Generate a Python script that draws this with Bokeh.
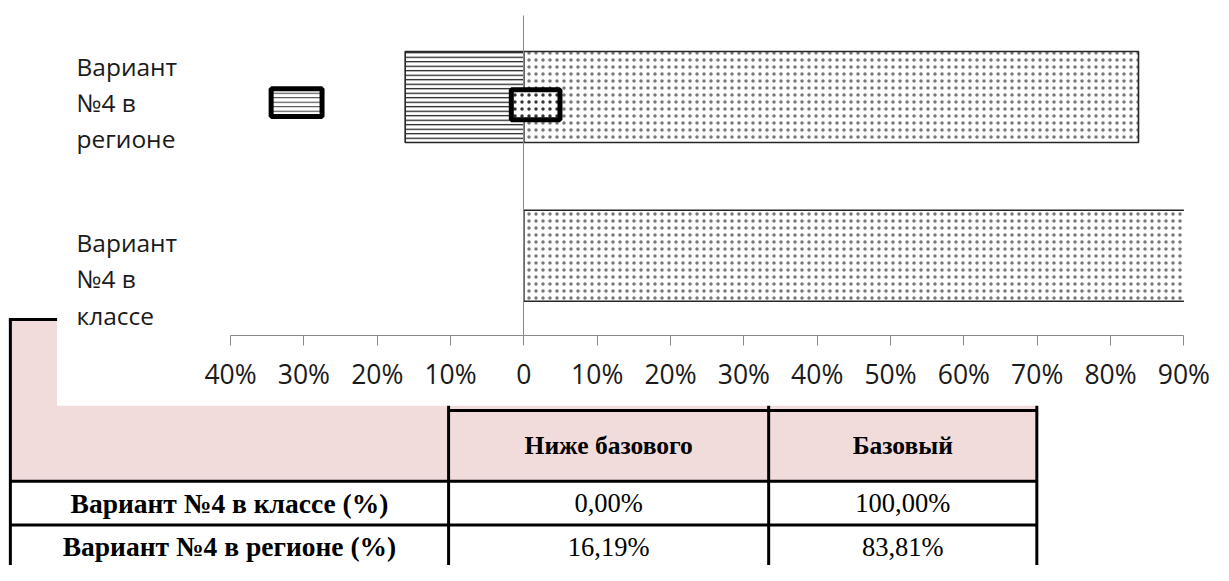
from bokeh.plotting import figure
from bokeh.models import Range1d, LinearAxis, FixedTicker, ColumnDataSource
from bokeh.core.properties import value
from bokeh.embed import file_html
from bokeh.resources import INLINE

# ---------------- data ----------------
categories = ["Вариант №4 в классе", "Вариант №4 в регионе"]
category_labels = ["Вариант\n№4 в\nклассе", "Вариант\n№4 в\nрегионе"]
series = ["Ниже базового", "Базовый"]
below_basic = [0.00, 16.19]
basic = [100.00, 83.81]
tick_values = [-40, -30, -20, -10, 0, 10, 20, 30, 40, 50, 60, 70, 80, 90]
tick_labels = ["40%", "30%", "20%", "10%", "0", "10%", "20%", "30%",
               "40%", "50%", "60%", "70%", "80%", "90%"]
row_labels = ["Вариант №4 в классе (%)", "Вариант №4 в регионе (%)"]

# ---------------- layout ----------------
W, H = 1213, 565                    # figure size
REF_W, REF_H = 1229, 581            # reference picture size (layout units)
ZERO_X, PX_PCT = 530.3, 7.43        # layout x of 0 %, layout px per 1 %
CLS_Y, UNIT_Y = 262.5, 163.3        # layout y of category 0, px per category
AXIS_MIN, AXIS_MAX = -40, 90        # value-axis limits of the chart
x_start = (0 - ZERO_X) / PX_PCT
x_end = (REF_W - ZERO_X) / PX_PCT
y_bottom = -(REF_H - CLS_Y) / UNIT_Y
y_top = CLS_Y / UNIT_Y

def ypage(py):
    return (CLS_Y - py) / UNIT_Y

p = figure(width=W, height=H, output_backend="svg", toolbar_location=None,
           x_range=Range1d(x_start, x_end), y_range=Range1d(y_bottom, y_top),
           x_axis_type=None, y_axis_type=None, min_border=0)
p.extra_x_ranges = {"px": Range1d(0, REF_W)}
p.extra_y_ranges = {"py": Range1d(REF_H, 0)}
p.outline_line_color = None
p.background_fill_color = "white"
p.border_fill_color = "white"

# ---------------- table (behind the chart) ----------------
PINK = "#f2dcdb"
T_L, T_TOP, T_R = 10, 328, 1050
HEAD_TOP, HEAD_BOT, ROW2 = 421.7, 494.3, 539.3
COLS = [10, 454, 778.3, 1050]
p.quad(left=[T_L], right=[T_R], top=[T_TOP], bottom=[HEAD_BOT],
       fill_color=PINK, line_color=None, x_range_name="px", y_range_name="py")

seg_x0 = [8.5, T_L, COLS[1], COLS[2], COLS[3], COLS[1], T_L, T_L]
seg_x1 = [T_R, T_L, COLS[1], COLS[2], COLS[3], T_R, T_R, T_R]
seg_y0 = [T_TOP, T_TOP, T_TOP, T_TOP, T_TOP, HEAD_TOP, HEAD_BOT, ROW2]
seg_y1 = [T_TOP, 600, 600, 600, 600, HEAD_TOP, HEAD_BOT, ROW2]
p.segment(x0=seg_x0, y0=seg_y0, x1=seg_x1, y1=seg_y1, line_color="black",
          line_width=3, x_range_name="px", y_range_name="py")

# header texts
col_centers = [(COLS[1] + COLS[2]) / 2, (COLS[2] + COLS[3]) / 2]
p.text(x=col_centers, y=[(HEAD_TOP + HEAD_BOT) / 2] * 2, text=series,
       text_font=value("Liberation Serif"), text_font_style="bold",
       text_font_size="25.5px", text_align="center", text_baseline="middle",
       text_color="black", x_range_name="px", y_range_name="py")
row_centers = [(HEAD_BOT + ROW2) / 2, ROW2 + (ROW2 - HEAD_BOT) / 2]
p.text(x=[(COLS[0] + COLS[1]) / 2] * 2, y=row_centers, text=row_labels,
       text_font=value("Liberation Serif"), text_font_style="bold",
       text_font_size="27.5px", text_align="center", text_baseline="middle",
       text_color="black", x_range_name="px", y_range_name="py")

def fmt(v):
    return f"{v:.2f}%".replace(".", ",")

cell_x, cell_y, cell_t = [], [], []
for i in range(len(categories)):
    for j, vals in enumerate([below_basic, basic]):
        cell_x.append(col_centers[j])
        cell_y.append(row_centers[i])
        cell_t.append(fmt(vals[i]))
p.text(x=cell_x, y=cell_y, text=cell_t, text_font=value("Liberation Serif"),
       text_font_size="26.5px", text_align="center", text_baseline="middle",
       text_color="black", x_range_name="px", y_range_name="py")

# white chart area covering the top of the table
p.quad(left=[57.3], right=[REF_W + 20], top=[-10], bottom=[416.7],
       fill_color="white", line_color=None, x_range_name="px", y_range_name="py")

# ---------------- chart ----------------
idx = list(range(len(categories)))
src = ColumnDataSource(dict(y=idx, neg=[-v for v in below_basic], pos=basic,
                            zero=[0] * len(idx)))
BAR_H = 93.6 / UNIT_Y
p.hbar(y="y", left="neg", right="zero", height=BAR_H, source=src,
       fill_color="white", line_color="#262626", line_width=1.6,
       hatch_pattern="horizontal_line", hatch_scale=4.5, hatch_weight=1.2,
       hatch_color="#111111")
p.hbar(y="y", left="zero", right="pos", height=BAR_H, source=src,
       fill_color="white", line_color="#262626", line_width=1.6,
       hatch_pattern="dot", hatch_scale=7, hatch_color="#777777")

# the chart's plot area ends at the axis maximum: mask what lies beyond it
p.quad(left=[AXIS_MAX], right=[x_end + 5], top=[y_top + 1], bottom=[ypage(340)],
       fill_color="white", line_color=None)

# category labels
label_dy = [0.188, 0.297]
p.text(x=[77] * len(idx), y=[i + d for i, d in zip(idx, label_dy)],
       text=category_labels, text_font=value("Open Sans"),
       text_font_size="24.5px", text_align="left", text_baseline="top",
       text_line_height=1.1, text_color="#1a1a1a", x_range_name="px")

# legend keys (as they appear in the source image)
key_src = ColumnDataSource(dict(name=series, x=[300.0, 542.2], y=[105.0, 107.2],
                                w=[51.6, 49.3], h=[28.4, 30.7],
                                hp=["horizontal_line", "dot"],
                                hs=[4.5, 7]))
kr = p.rect(x="x", y="y", width="w", height="h", source=key_src,
            fill_color="white", line_color="black", line_width=5,
            hatch_pattern="hp", hatch_scale="hs", hatch_weight=1,
            hatch_color="#333333", x_range_name="px", y_range_name="py")
kr.level = "overlay"

# axes
xaxis = LinearAxis(fixed_location=ypage(345), bounds=(AXIS_MIN, AXIS_MAX),
                   ticker=FixedTicker(ticks=tick_values),
                   major_label_overrides=dict(zip(tick_values, tick_labels)))
xaxis.axis_line_color = "#8a8a8a"
xaxis.major_tick_line_color = "#8a8a8a"
xaxis.minor_tick_line_color = None
xaxis.major_tick_in = 0
xaxis.major_tick_out = 10
xaxis.major_label_standoff = 10
xaxis.major_label_text_font = "Open Sans"
xaxis.major_label_text_font_size = "26.5px"
xaxis.major_label_text_color = "#1a1a1a"
p.add_layout(xaxis, "below")

yaxis = LinearAxis(fixed_location=0, bounds=(ypage(345), ypage(15)),
                   ticker=FixedTicker(ticks=[]))
yaxis.axis_line_color = "#8a8a8a"
yaxis.major_tick_line_color = None
yaxis.minor_tick_line_color = None
yaxis.major_label_text_font_size = "0px"
p.add_layout(yaxis, "left")

open("out.html", "w").write(file_html(p, INLINE))
